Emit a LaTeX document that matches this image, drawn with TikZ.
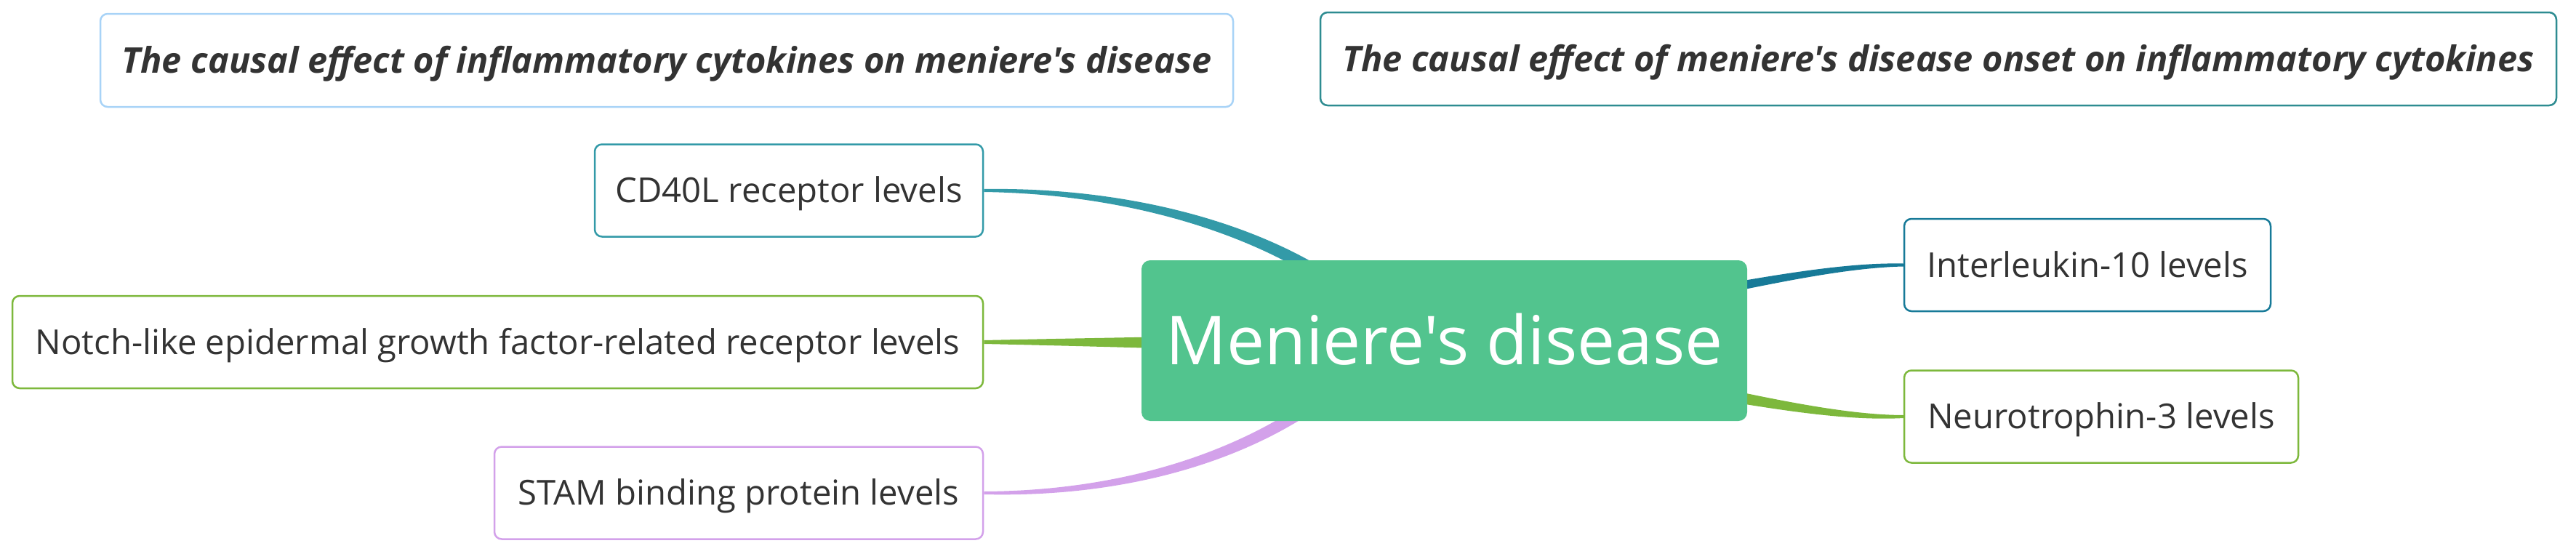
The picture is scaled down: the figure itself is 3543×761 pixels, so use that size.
\documentclass[tikz,border=0pt]{standalone}
\usepackage{fontspec}
\setmainfont{Open Sans}[Ligatures=TeXOff]
\usetikzlibrary{calc}
\definecolor{cdcol}{HTML}{339AA8}
\definecolor{ilcol}{HTML}{177A98}
\definecolor{grcol}{HTML}{7DB83C}
\definecolor{stcol}{HTML}{D3A1EA}
\definecolor{mccol}{HTML}{52C48E}
\definecolor{lbcol}{HTML}{A8D3F7}
\definecolor{ttcol}{HTML}{2E8C91}
\definecolor{txcol}{HTML}{333333}
\pgfdeclarelayer{bg}
\pgfsetlayers{bg,main}
\newcommand\mmband[7]{%
  \fill[#1] ($(#2)+(0,-#6)$) .. controls ($(#3)+(0,{-(2*#6+#7)/3})$) and ($(#4)+(0,{-(#6+2*#7)/3})$) .. ($(#5)+(0,-#7)$)
   -- ($(#5)+(0,#7)$) .. controls ($(#4)+(0,{(#6+2*#7)/3})$) and ($(#3)+(0,{(2*#6+#7)/3})$) .. ($(#2)+(0,#6)$) -- cycle;}
\begin{document}
\begin{tikzpicture}[x=0.1mm,y=-0.1mm,
  childbox/.style={draw, line width=0.25mm, rounded corners=1mm, fill=white,
    minimum height=12.7mm, inner sep=0pt, text=txcol,
    font=\fontsize{13.45}{16}\selectfont, text height=9.6pt, text depth=0pt},
  titlebox/.style={draw, line width=0.25mm, rounded corners=1mm, fill=white,
    minimum height=12.8mm, inner sep=0pt, text=txcol,
    font=\fontsize{13.85}{16}\selectfont\bfseries\itshape, text height=9.9pt, text depth=0pt},
  mainbox/.style={fill=mccol, rounded corners=1.2mm, minimum width=83.3mm,
    minimum height=22.1mm, inner sep=0pt, text=white,
    font=\fontsize{26.4}{30}\selectfont, text height=18.9pt, text depth=0pt}]
\useasboundingbox (0,0) rectangle (3543,761);
\node[titlebox, draw=lbcol, minimum width=155.8mm] (t1) at (917,83) {The causal effect of inflammatory cytokines on meniere's disease};
\node[titlebox, draw=ttcol, minimum width=170mm] (t2) at (2666,81) {The causal effect of meniere's disease onset on inflammatory cytokines};
\node[childbox, draw=cdcol, minimum width=53.4mm] (cd) at (1085,262) {CD40L receptor levels};
\node[childbox, draw=grcol, minimum width=133.5mm] (nt) at (684.5,470.5) {Notch-like epidermal growth factor-related receptor levels};
\node[childbox, draw=stcol, minimum width=67.2mm] (st) at (1016,678) {STAM binding protein levels};
\node[childbox, draw=ilcol, minimum width=50.4mm] (il) at (2871,364.5) {Interleukin-10 levels};
\node[childbox, draw=grcol, minimum width=54.2mm] (n3) at (2890,573) {Neurotrophin-3 levels};
\node[mainbox] (mc) at (1986.5,468.5) {Meniere's disease};
\begin{pgfonlayer}{bg}
  \coordinate (cd1) at ($(cd.east)+(206,0)$);
  \coordinate (cd2) at ($(cd.east)+(386,56)$);
  \coordinate (cd3) at ($(mc.center)+(-136,-68)$);
  \mmband{cdcol}{cd.east}{cd1}{cd2}{cd3}{2}{11}
  \coordinate (nt1) at ($(nt.east)+(100,0)$);
  \coordinate (nt2) at ($(nt.east)+(200,0.5)$);
  \coordinate (nt3) at ($(mc.center)+(-346,3)$);
  \mmband{grcol}{nt.east}{nt1}{nt2}{nt3}{2.5}{9}
  \coordinate (st1) at ($(st.east)+(208,2)$);
  \coordinate (st2) at ($(st.east)+(378,-58)$);
  \coordinate (st3) at ($(mc.center)+(-146,61.5)$);
  \mmband{stcol}{st.east}{st1}{st2}{st3}{2}{11}
  \coordinate (il1) at ($(il.west)+(-80,0)$);
  \coordinate (il2) at ($(il.west)+(-180,20)$);
  \coordinate (il3) at ($(mc.center)+(343.5,-63.5)$);
  \mmband{ilcol}{il.west}{il1}{il2}{il3}{2}{7.3}
  \coordinate (n31) at ($(n3.west)+(-79,2)$);
  \coordinate (n32) at ($(n3.west)+(-179,-17)$);
  \coordinate (n33) at ($(mc.center)+(343.5,66.5)$);
  \mmband{grcol}{n3.west}{n31}{n32}{n33}{2}{9.2}
\end{pgfonlayer}
\end{tikzpicture}
\end{document}
